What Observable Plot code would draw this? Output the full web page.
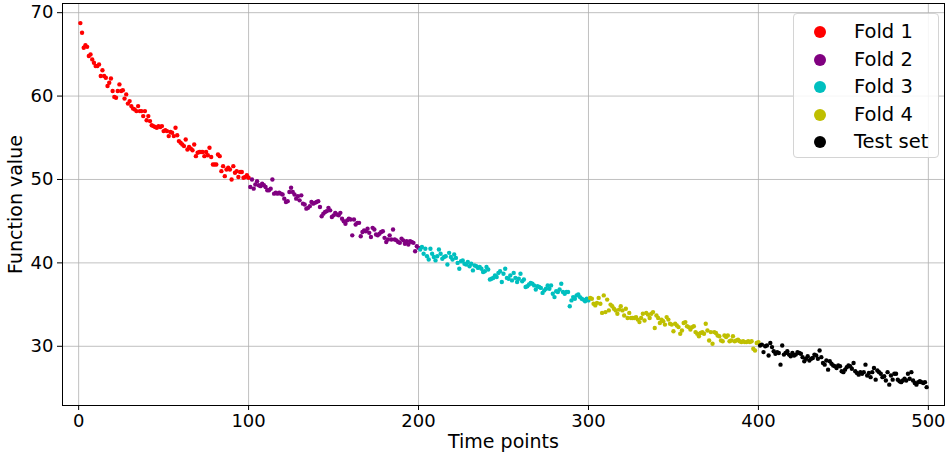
<!DOCTYPE html>
<html>
<head>
<meta charset="utf-8">
<script src="https://cdn.jsdelivr.net/npm/d3@7"></script>
<script src="https://cdn.jsdelivr.net/npm/@observablehq/plot@0.6"></script>
<style>
  html, body { margin: 0; padding: 0; background: #fff; }
  #wrap { position: relative; width: 951px; height: 457px; font-family: "DejaVu Sans", sans-serif; }
  #legend { position: absolute; left: 793px; top: 13px; width: 146px; height: 145px;
    border: 1px solid #d4d4d4; border-radius: 4px; background: rgba(255,255,255,0.85);
    box-sizing: border-box; font-size: 19.5px; color: #000; }
  .row { position: absolute; left: 0; height: 20px; }
  .sw { position: absolute; left: 20px; width: 12px; height: 12px; border-radius: 50%; }
  .lb { position: absolute; left: 60px; white-space: nowrap; line-height: 20px; }
</style>
</head>
<body>
<div id="wrap"></div>
<script>
// Fold names and colours
const foldNames = ["Fold 1", "Fold 2", "Fold 3", "Fold 4", "Test set"];
const foldColors = ["#ff0000", "#800080", "#00bfbf", "#bfbf00", "#000000"];
const foldStarts = [1, 101, 201, 301, 401];

const fold1 = [68.75,67.6,65.8,66.1,65.9,64.8,65.0,64.4,64.0,63.6,63.6,63.8,62.4,63.1,62.4,62.2,61.2,61.6,62.1,60.6,
  59.9,59.8,60.6,61.4,60.6,60.7,59.7,60.2,59.1,59.4,58.8,58.5,58.4,58.2,58.8,58.2,58.2,57.6,58.2,57.1,
  57.6,57.0,56.5,56.4,56.3,56.2,56.4,56.3,56.4,55.8,55.9,55.8,55.2,55.7,55.6,55.2,56.2,55.3,54.6,54.4,
  54.2,54.0,54.8,53.6,53.9,53.7,53.5,54.2,52.8,53.2,53.3,53.3,53.3,52.8,53.3,52.9,53.8,52.7,51.8,51.8,
  51.8,53.0,52.8,51.0,51.6,50.4,51.2,51.4,51.2,50.0,51.6,50.8,51.0,50.3,50.9,50.9,50.2,50.3,50.5,50.2];
const fold2 = [49.1,50.0,48.9,49.4,49.8,49.3,49.2,49.5,49.3,49.1,48.7,48.7,48.9,50.0,48.3,48.4,48.3,48.4,48.3,48.2,
  47.7,47.3,47.4,48.5,49.0,48.5,48.2,47.7,48.0,47.5,48.1,47.1,47.0,46.5,46.6,46.8,47.3,47.1,47.2,47.3,
  47.4,46.7,45.6,45.9,46.1,46.2,46.6,46.3,45.5,45.7,46.0,45.8,45.7,46.0,45.3,45.0,44.7,45.1,45.3,45.2,
  43.3,45.2,44.6,44.8,44.8,43.2,43.7,43.9,43.8,44.1,43.6,43.1,44.2,44.0,43.4,43.3,43.5,43.7,43.8,43.0,
  42.5,42.8,43.3,42.8,44.0,42.8,42.7,42.5,42.4,42.9,42.7,42.3,42.6,42.2,42.6,42.5,42.4,41.4,42.0,41.8];
const fold3 = [41.6,41.9,41.1,41.7,40.8,40.4,41.7,41.1,40.7,40.3,40.8,41.6,41.1,40.5,40.7,40.8,39.8,41.2,40.7,40.4,
  41.0,40.6,40.0,39.3,40.2,40.3,39.9,39.8,40.1,39.6,39.9,39.1,39.7,39.6,39.4,39.5,39.3,38.9,39.0,39.5,
  39.2,38.0,38.1,38.2,38.5,38.3,38.8,39.0,37.7,38.7,39.3,38.2,38.1,38.5,37.9,38.8,38.2,37.7,38.1,38.7,
  37.8,38.0,37.1,37.2,37.4,37.6,37.5,37.3,36.8,37.2,37.1,37.0,36.4,36.7,36.9,37.3,36.9,37.3,36.3,35.9,
  36.6,36.5,36.8,37.5,36.5,36.3,36.5,36.5,34.8,35.5,35.9,35.7,36.1,36.2,35.9,35.7,35.6,35.4,35.7,35.5];
const fold4 = [35.8,35.7,35.1,34.9,35.2,35.8,35.1,34.0,36.1,34.1,35.6,34.3,35.0,34.8,34.5,34.3,33.9,34.4,34.8,34.3,
  33.7,34.5,33.4,34.0,33.4,33.4,33.4,33.5,33.2,32.9,33.4,33.9,33.1,34.0,33.8,33.4,33.9,34.1,32.2,33.7,
  33.4,32.8,33.2,33.0,32.6,33.5,33.2,32.7,32.6,31.8,32.7,32.5,32.3,31.5,31.9,32.8,32.9,32.4,32.3,32.0,
  32.3,32.4,31.7,31.5,31.2,31.6,31.7,31.5,32.7,31.9,30.7,31.7,30.3,31.7,31.6,31.3,31.2,30.7,30.6,31.3,
  31.1,31.3,30.6,30.7,31.2,30.6,30.7,30.8,30.6,30.5,30.6,30.5,30.5,30.6,30.5,30.6,29.7,29.5,30.4,30.5];
const testSet = [30.1,30.2,29.3,30.0,30.1,28.9,30.4,29.9,29.4,29.1,29.3,29.2,27.8,30.1,29.0,29.2,29.4,29.0,28.8,29.2,
  28.9,29.0,29.3,29.2,29.1,28.7,28.2,28.5,28.8,28.3,28.5,28.6,29.0,28.9,28.5,29.5,28.7,28.0,27.8,28.3,
  27.2,28.2,27.9,27.7,27.6,27.4,27.7,27.6,27.0,26.9,27.2,27.5,27.7,27.6,27.3,28.0,27.0,26.8,26.6,26.9,
  26.7,26.9,27.8,26.5,26.8,26.3,26.9,27.4,26.0,27.1,26.9,26.7,26.3,26.4,25.9,26.9,25.4,26.5,26.0,26.7,
  26.7,26.0,25.8,25.7,25.9,26.1,25.9,26.7,26.1,26.9,25.9,25.6,25.4,25.7,25.8,25.7,25.6,25.7,25.1];

const xTicks = [0, 100, 200, 300, 400, 500];
const yTicks = [30, 40, 50, 60, 70];

const series = [fold1, fold2, fold3, fold4, testSet];
const data = [];
series.forEach((vals, k) => vals.forEach((v, i) => data.push({t: foldStarts[k] + i, v, fold: foldNames[k]})));

const font = "DejaVu Sans, sans-serif";
const chart = Plot.plot({
  width: 951,
  height: 457,
  marginLeft: 62,
  marginRight: 7,
  marginTop: 3,
  marginBottom: 52,
  style: {fontFamily: font, fontSize: "18px", color: "#000", background: "#fff"},
  x: {domain: [-9.5, 509.5], ticks: xTicks, label: null},
  y: {domain: [22.9, 71.1], ticks: yTicks, label: null},
  color: {domain: foldNames, range: foldColors},
  marks: [
    Plot.gridX(xTicks, {stroke: "#b0b0b0", strokeOpacity: 1, strokeWidth: 0.8}),
    Plot.gridY(yTicks, {stroke: "#b0b0b0", strokeOpacity: 1, strokeWidth: 0.8}),
    Plot.dot(data, {x: "t", y: "v", fill: "fold", r: 2.2, stroke: null}),
    Plot.frame({stroke: "#000", strokeWidth: 1}),
    Plot.axisX(xTicks, {tickSize: 5, tickPadding: 4, fontSize: 18, label: "Time points", labelAnchor: "center", labelArrow: "none", labelOffset: 42}),
    Plot.axisY(yTicks, {tickSize: 5, tickPadding: 4, fontSize: 18, label: "Function value", labelAnchor: "center", labelArrow: "none", labelOffset: 54})
  ]
});
const wrap = document.getElementById("wrap");
wrap.appendChild(chart);
chart.querySelectorAll("[aria-label='x-axis label'] text, [aria-label='y-axis label'] text").forEach(t => t.setAttribute("font-size", "19"));

const legend = document.createElement("div");
legend.id = "legend";
foldNames.forEach((name, k) => {
  const row = document.createElement("div");
  row.className = "row";
  row.style.top = (8 + k * 27.5) + "px";
  row.innerHTML = `<span class="sw" style="background:${foldColors[k]};top:4px"></span><span class="lb">${name}</span>`;
  legend.appendChild(row);
});
wrap.appendChild(legend);
</script>
</body>
</html>
